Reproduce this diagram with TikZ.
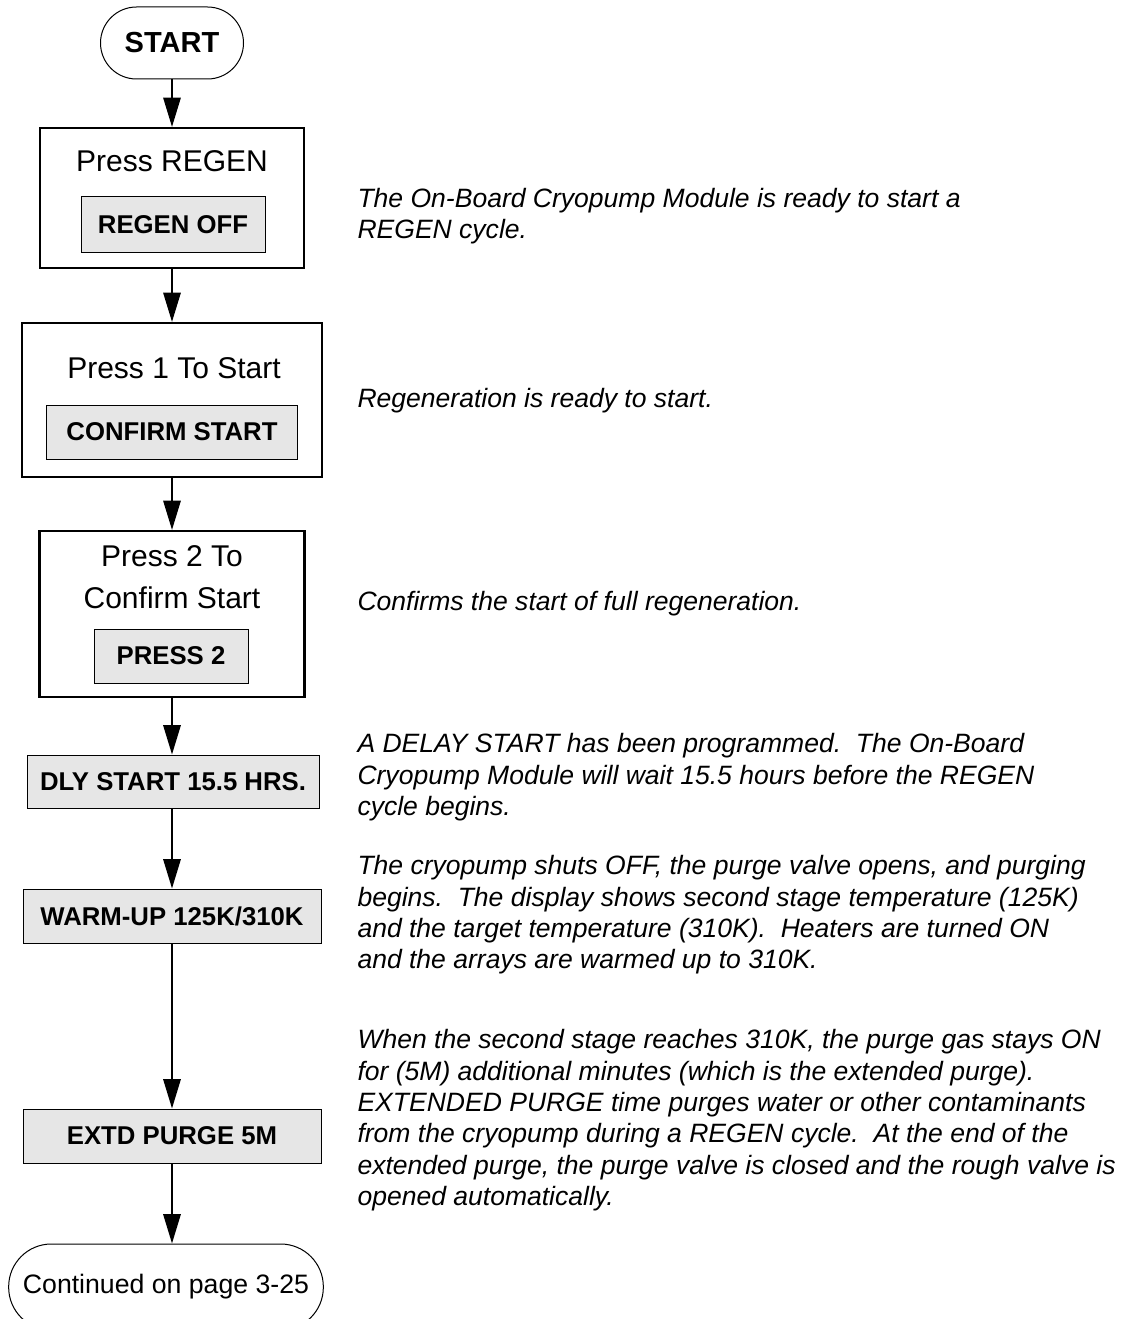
\documentclass[tikz,border=0pt]{standalone}
\usepackage{fontspec}
\setmainfont{Liberation Sans}
\usetikzlibrary{arrows.meta}

\definecolor{keygray}{RGB}{230,230,230}

\tikzset{every picture/.style={line width=0.75pt}}
\tikzset{
	stepframe/.style={draw, line width=1.6pt, inner sep=0pt},
	keypanel/.style={draw, fill=keygray, line width=0.75pt, inner sep=0pt, font=\fontsize{19.3}{23}\selectfont\bfseries},
	terminal/.style={draw, line width=0.75pt, inner sep=0pt},
	steptext/.style={inner sep=0pt, font=\fontsize{22.5}{31.5}\selectfont},
	flowarrow/.style={line width=1.5pt, -{Triangle[length=22pt,width=13pt]}},
	remark/.style={anchor=north west, inner sep=0pt, align=left, font=\fontsize{19.9}{23.5}\selectfont\itshape}
}

\begin{document}
\frenchspacing
\begin{tikzpicture}[x=0.75pt,y=0.75pt,yscale=-1,xscale=1]
	\useasboundingbox (0,0) rectangle (1123,1319);
	
	%Terminal [id:start]
	\node (start) at (172,43) [terminal, minimum width=107.25pt, minimum height=54pt, rounded corners=27pt, font=\fontsize{21.75}{26}\selectfont\bfseries] {START};
	
	%Frames [id:regen]
	\node (regen) at (172,198) [stepframe, minimum width=198pt, minimum height=105pt] {};
	\node (regentxt) at (172,172) [steptext, anchor=base] {Press REGEN};
	\node (regenkey) at (173,225) [keypanel, minimum width=138pt, minimum height=42pt] {REGEN OFF};
	
	%Frames [id:confirm]
	\node (confirm) at (172,400) [stepframe, minimum width=225pt, minimum height=115.5pt] {};
	\node (confirmtxt) at (174,378) [steptext, anchor=base] {Press 1 To Start};
	\node (confirmkey) at (172,432) [keypanel, minimum width=188.25pt, minimum height=40.5pt] {CONFIRM START};
	
	%Frames [id:press2]
	\node (press) at (172,614) [stepframe, minimum width=198.75pt, minimum height=124.5pt] {};
	\node (presstxt) at (172,545) [steptext, anchor=north, align=center] {Press 2 To\\Confirm Start};
	\node (presskey) at (171,656) [keypanel, minimum width=115.5pt, minimum height=40.5pt] {PRESS 2};
	
	%Display panels
	\node (delay) at (173,781.5) [keypanel, minimum width=219pt, minimum height=39.75pt] {DLY START 15.5 HRS.};
	\node (warm) at (172,916) [keypanel, minimum width=223.5pt, minimum height=40.5pt] {WARM-UP 125K/310K};
	\node (purge) at (172,1136) [keypanel, minimum width=223.5pt, minimum height=40.5pt] {EXTD PURGE 5M};
	
	%Terminal [id:continued]
	\node (cont) at (166,1287) [terminal, minimum width=236pt, minimum height=64.5pt, rounded corners=32pt, font=\fontsize{20}{24}\selectfont] {Continued on page 3-25};
	
	%Straight Lines
	\draw [flowarrow] (start) -- (regen);
	\draw [flowarrow] (regen) -- (confirm);
	\draw [flowarrow] (confirm) -- (press);
	\draw [flowarrow] (press.south) -- (press.south |- delay.north);
	\draw [flowarrow] (delay.south -| warm) -- (warm);
	\draw [flowarrow] (warm) -- (purge);
	\draw [flowarrow] (purge.south) -- (purge.south |- cont.north);
	
	% Text Node
	\node (noteregen) at (357,187.5) [remark] {The On-Board Cryopump Module is ready to start a\\REGEN cycle.};
	% Text Node
	\node (noteconfirm) at (357,388) [remark] {Regeneration is ready to start.};
	% Text Node
	\node (notepress) at (357,591) [remark] {Confirms the start of full regeneration.};
	% Text Node
	\node (notedelay) at (357,733) [remark] {A DELAY START has been programmed.\ \ The On-Board\\Cryopump Module will wait 15.5 hours before the REGEN\\cycle begins.};
	% Text Node
	\node (notewarm) at (357,855) [remark] {The cryopump shuts OFF, the purge valve opens, and purging\\begins.\ \ The display shows second stage temperature (125K)\\and the target temperature (310K).\ \ Heaters are turned ON\\and the arrays are warmed up to 310K.};
	% Text Node
	\node (notepurge) at (357,1029) [remark] {When the second stage reaches 310K, the purge gas stays ON\\for (5M) additional minutes (which is the extended purge).\\EXTENDED PURGE time purges water or other contaminants\\from the cryopump during a REGEN cycle.\ \ At the end of the\\extended purge, the purge valve is closed and the rough valve is\\opened automatically.};
\end{tikzpicture}
\end{document}
